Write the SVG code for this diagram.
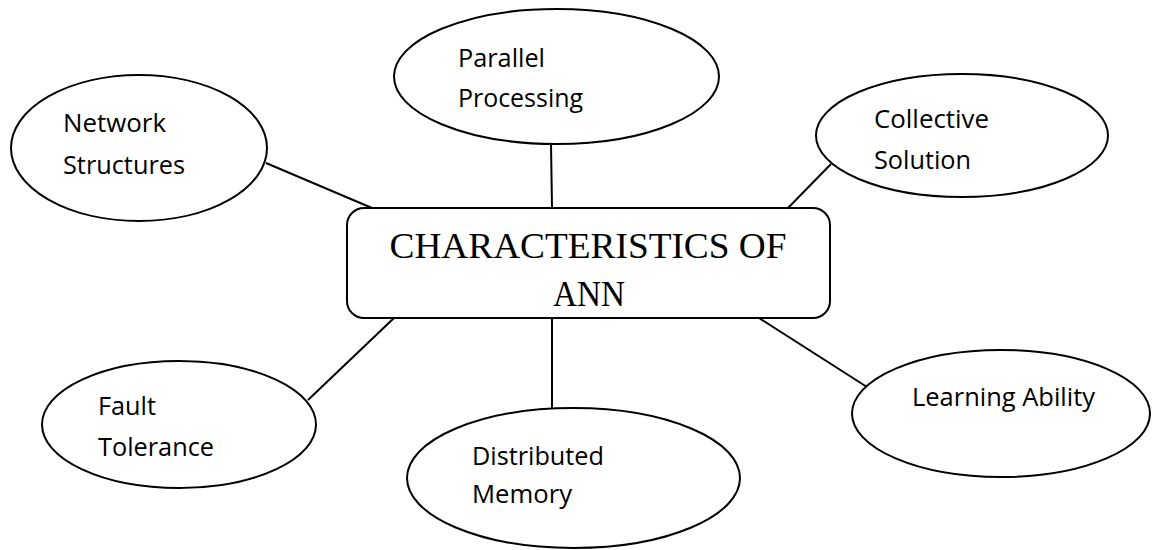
<svg xmlns="http://www.w3.org/2000/svg" width="1152" height="550" viewBox="0 0 1152 550">
<style>
.shape{fill:#fff;stroke:#000;stroke-width:2}
.conn line{stroke:#000;stroke-width:2}
.lbl{font-family:"Open Sans","Liberation Sans",sans-serif;font-size:25px;fill:#000}
.title{font-family:"Liberation Serif","Times New Roman",serif;font-size:36px;fill:#000;text-anchor:middle}
</style>
<rect width="1152" height="550" fill="#fff"/>
<g id="connectors" class="conn">
<line x1="266" y1="163" x2="372" y2="208"/>
<line x1="551" y1="144" x2="552" y2="208"/>
<line x1="831" y1="164" x2="788" y2="208"/>
<line x1="394" y1="318" x2="308" y2="400"/>
<line x1="552" y1="318" x2="552" y2="408"/>
<line x1="759" y1="318" x2="867" y2="387"/>
</g>
<g id="center">
<rect class="shape" x="347" y="208" width="483" height="110" rx="17"/>
<text class="title" x="588" y="258" textLength="397" lengthAdjust="spacingAndGlyphs">CHARACTERISTICS OF</text>
<text class="title" x="589" y="306" textLength="72" lengthAdjust="spacingAndGlyphs">ANN</text>
</g>
<g id="network-structures">
<ellipse class="shape" cx="139" cy="148" rx="128" ry="73"/>
<text class="lbl" x="63" y="131.5" textLength="103" lengthAdjust="spacingAndGlyphs">Network</text>
<text class="lbl" x="63" y="174" textLength="122" lengthAdjust="spacingAndGlyphs">Structures</text>
</g>
<g id="parallel-processing">
<ellipse class="shape" cx="556.5" cy="76.5" rx="162.5" ry="67.5"/>
<text class="lbl" x="458" y="67" textLength="87" lengthAdjust="spacingAndGlyphs">Parallel</text>
<text class="lbl" x="458" y="107" textLength="125" lengthAdjust="spacingAndGlyphs">Processing</text>
</g>
<g id="collective-solution">
<ellipse class="shape" cx="962" cy="135.5" rx="146" ry="61.5"/>
<text class="lbl" x="874" y="128" textLength="115" lengthAdjust="spacingAndGlyphs">Collective</text>
<text class="lbl" x="874" y="169" textLength="97" lengthAdjust="spacingAndGlyphs">Solution</text>
</g>
<g id="fault-tolerance">
<ellipse class="shape" cx="179" cy="424.5" rx="137" ry="63.5"/>
<text class="lbl" x="98" y="415" textLength="58" lengthAdjust="spacingAndGlyphs">Fault</text>
<text class="lbl" x="98" y="456" textLength="116" lengthAdjust="spacingAndGlyphs">Tolerance</text>
</g>
<g id="distributed-memory">
<ellipse class="shape" cx="573.5" cy="478" rx="166.5" ry="70"/>
<text class="lbl" x="472" y="465" textLength="132" lengthAdjust="spacingAndGlyphs">Distributed</text>
<text class="lbl" x="472" y="503" textLength="100" lengthAdjust="spacingAndGlyphs">Memory</text>
</g>
<g id="learning-ability">
<ellipse class="shape" cx="1001" cy="413.5" rx="149" ry="63.5"/>
<text class="lbl" x="912" y="406" textLength="183" lengthAdjust="spacingAndGlyphs">Learning Ability</text>
</g>
</svg>
